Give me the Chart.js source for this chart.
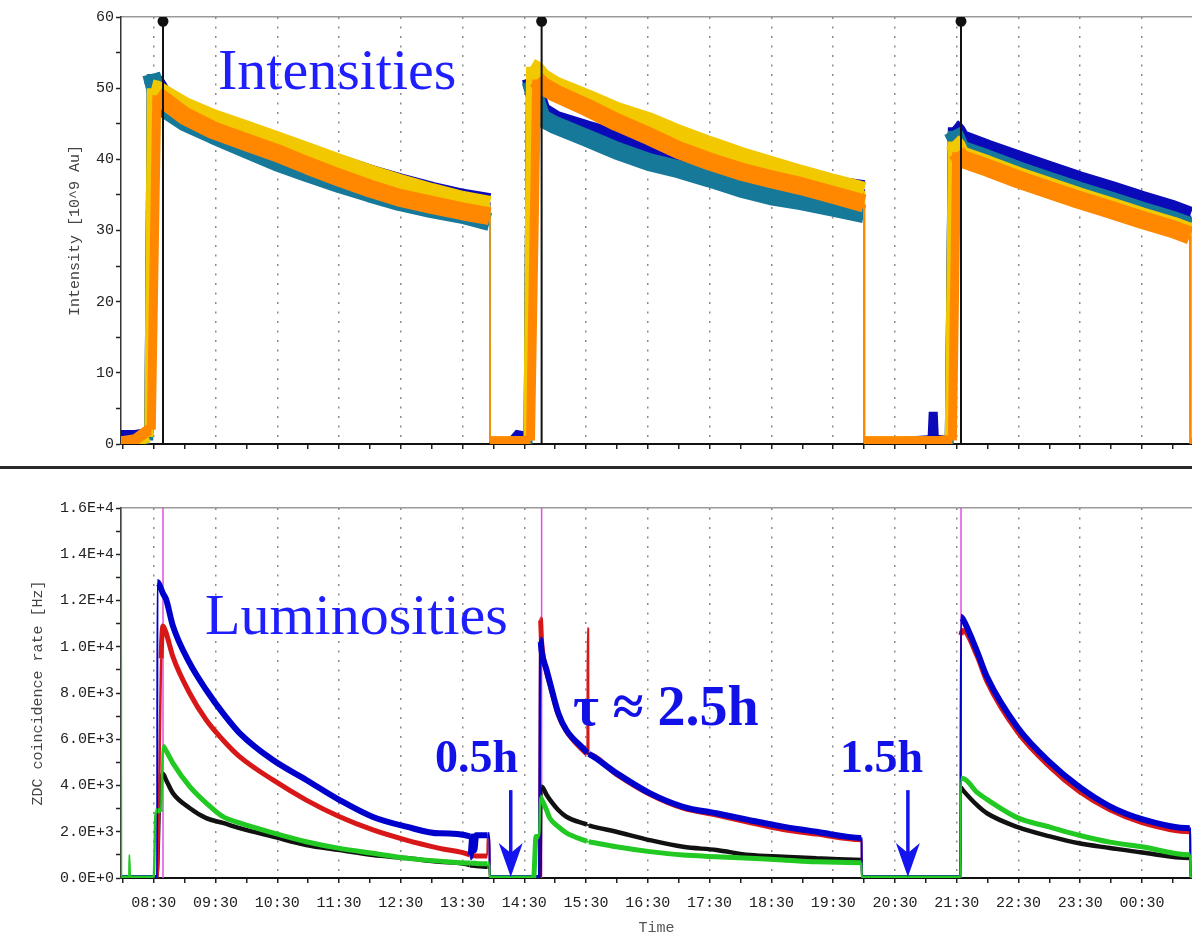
<!DOCTYPE html>
<html>
<head>
<meta charset="utf-8">
<script src="https://cdn.jsdelivr.net/npm/chart.js@4.4.1/dist/chart.umd.min.js"></script>
<style>
  html, body { margin: 0; padding: 0; background: #fff; }
  #wrap { position: relative; width: 1192px; height: 938px; overflow: hidden; background: #fff; }
  canvas { position: absolute; left: 0; }
  #intCanvas { top: 0; }
  #lumCanvas { top: 470px; }
  .sep { position: absolute; left: 0; top: 466px; width: 1192px; height: 3px; background: #2a2a2a; }
  .note { position: absolute; font-family: 'Liberation Serif', 'Times New Roman', serif; color: #1e1eff; line-height: 1; white-space: nowrap; }
  .bold { font-weight: bold; color: #1212e8; }
</style>
</head>
<body>
<div id="wrap">
  <canvas id="intCanvas" width="1192" height="466"></canvas>
  <div class="sep"></div>
  <canvas id="lumCanvas" width="1192" height="468"></canvas>
  <div class="note" style="left:218px;top:41px;font-size:58px;">Intensities</div>
  <div class="note" style="left:205px;top:586px;font-size:58px;">Luminosities</div>
  <div class="note bold" style="left:573px;top:678px;font-size:56px;">τ ≈ 2.5h</div>
  <div class="note bold" style="left:435px;top:734px;font-size:46px;">0.5h</div>
  <div class="note bold" style="left:840px;top:734px;font-size:46px;">1.5h</div>
</div>
<script>
// time axis (hours since midnight of the first day, > 24 after midnight)
const timeMin = 7.97;
const timeMax = 25.31;
const labelHours = [8.5, 9.5, 10.5, 11.5, 12.5, 13.5, 14.5, 15.5, 16.5, 17.5, 18.5, 19.5, 20.5, 21.5, 22.5, 23.5, 24.5];
const timeLabels = ['08:30', '09:30', '10:30', '11:30', '12:30', '13:30', '14:30', '15:30', '16:30', '17:30', '18:30', '19:30', '20:30', '21:30', '22:30', '23:30', '00:30'];

// start of each fill (black markers on top, magenta lines below)
const fillStarts = [8.65, 14.78, 21.57];

// beam intensities [10^9 Au]
const intTime = [7.97, 8.20, 8.42, 8.46, 8.55, 8.65, 9.00, 9.46, 10.00, 10.49, 11.00, 11.51, 12.00, 12.48, 13.00, 13.50, 13.94, 13.945,
  14.30, 14.43, 14.48, 14.56, 14.60, 14.70, 14.78, 15.00, 15.51, 16.00, 16.53, 17.00, 17.50, 18.00, 18.50, 19.00, 19.50, 20.00, 20.005,
  20.60, 21.10, 21.12, 21.14, 21.38, 21.43, 21.50, 21.57, 22.00, 22.49, 23.00, 23.48, 24.00, 24.50, 25.00, 25.28, 25.285, 25.31];
const intBlue = [1.2, 1.2, 1.5, 51.5, 50.5, 49.1, 47.3, 45.6, 44.0, 42.5, 40.9, 39.4, 38.0, 36.8, 35.6, 34.6, 34.0, 0.2,
  0.2, 1.5, 0.2, 0.5, 51.5, 49.0, 46.8, 45.6, 44.2, 43.0, 41.6, 40.6, 39.6, 38.6, 37.6, 36.9, 36.4, 35.8, 0.2,
  0.2, 0.5, 4.5, 0.5, 0.5, 44.5, 44.0, 42.9, 41.5, 40.0, 38.5, 37.1, 35.7, 34.3, 33.0, 32.1, 0, 0];
const intOrange = [0.3, 0.6, 2.0, 2.0, 49.0, 48.4, 46.1, 44.1, 42.4, 40.9, 39.1, 37.4, 35.9, 34.6, 33.6, 32.7, 32.0, 0.3,
  0.3, 0.3, 0.3, 0.5, 0.5, 51.2, 50.4, 49.3, 47.3, 45.2, 43.2, 41.3, 39.7, 38.3, 37.2, 36.2, 35.0, 33.8, 0.3,
  0.3, 0.3, 0.3, 0.3, 0.5, 0.5, 41.0, 40.1, 38.8, 37.2, 35.7, 34.3, 32.9, 31.5, 30.2, 29.3, 0, 0];
const intYellow = [0.3, 0.3, 1.0, 50.0, 49.8, 49.3, 47.5, 45.8, 44.2, 42.7, 41.1, 39.5, 38.0, 36.7, 35.4, 34.3, 33.6, 0.3,
  0.3, 0.3, 0.3, 0.5, 53.0, 52.5, 51.6, 50.4, 48.6, 46.8, 45.3, 43.6, 42.0, 40.5, 39.2, 37.9, 36.7, 35.6, 0.3,
  0.3, 0.3, 0.3, 0.3, 0.5, 42.5, 41.9, 40.6, 39.3, 37.7, 36.2, 34.8, 33.4, 32.0, 30.7, 29.8, 0, 0];
const intTeal = [0, 0, 0.5, 52.0, 49.0, 47.2, 45.2, 43.4, 41.4, 39.6, 38.0, 36.5, 35.2, 34.0, 33.0, 32.2, 31.2, 0,
  0, 0, 0, 0, 51.0, 48.0, 45.8, 44.8, 43.0, 41.2, 39.6, 38.6, 37.3, 35.9, 34.8, 34.1, 33.2, 32.3, 0,
  0, 0, 0, 0, 0, 44.0, 42.8, 41.4, 40.1, 38.5, 37.0, 35.6, 34.2, 32.8, 31.5, 30.6, 0, 0];

// ZDC coincidence rate [Hz]
const lumTime = [7.97, 7.975, 8.10, 8.105, 8.12, 8.50, 8.53, 8.555, 8.56, 8.62, 8.65, 8.70, 8.81, 9.08, 9.35, 9.62, 9.89,
  10.43, 10.97, 11.51, 12.05, 12.59, 13.13, 13.62, 13.625, 13.66, 13.69, 13.72, 13.90, 13.905, 13.935, 13.94,
  14.65, 14.69, 14.74, 14.76, 14.78, 14.86, 14.91, 15.05, 15.18, 15.515, 15.52, 15.525, 15.535, 15.54, 15.545, 15.99, 16.53,
  17.07, 17.61, 18.15, 18.69, 19.23, 19.955, 19.96, 19.965, 21.50, 21.56, 21.57, 21.60, 21.83, 21.99, 22.49, 23.01,
  23.48, 23.98, 24.50, 25.275, 25.28, 25.285, 25.31];
const lumBlue = [0, 0, 0, 0, 0, 0, 0, 0, 12800, 12500, 12300, 12050, 10900, 9300, 8130, 7130, 6270,
  5100, 4240, 3370, 2640, 2220, 1930, 1800, 900, 1800, 1200, 1850, 1850, 1850, 1850, 0,
  0, 0, 0, 10300, 9800, 9000, 8500, 7130, 6400, 5420, 5400, 5390, 5380, 5370, 5365, 4540, 3670,
  3080, 2800, 2500, 2220, 2000, 1735, 1730, 0, 0, 0, 11300, 11200, 9800, 8700, 6500, 5000,
  3950, 3100, 2550, 2155, 2150, 0, 0];
const lumRed = [0, 0, 0, 0, 0, 0, 0, 0, 0, 9500, 10900, 10600, 9570, 8000, 6830, 5970, 5250,
  4240, 3370, 2650, 2080, 1640, 1280, 990, 980, 970, 960, 955, 950, 1800, 1800, 0,
  0, 0, 0, 11200, 10200, 8900, 8400, 7050, 6350, 5360, 5350, 10800, 10800, 5330, 5325, 4480, 3620,
  3020, 2720, 2400, 2100, 1900, 1655, 1650, 0, 0, 0, 10500, 10700, 9600, 8500, 6300, 4800,
  3750, 2950, 2400, 2005, 2000, 0, 0];
const lumBlack = [0, 0, 0, 0, 0, 0, 0, 0, 0, 4500, 4500, 4240, 3670, 3030, 2590, 2380, 2160,
  1790, 1430, 1210, 990, 860, 700, 560, 550, 540, 530, 520, 490, 490, 480, 0,
  0, 0, 0, 0, 3960, 3600, 3400, 2940, 2650, 2305, 2300, 2290, 2290, 2280, 2275, 2000, 1640,
  1350, 1210, 990, 920, 850, 782, 780, 0, 0, 0, 3900, 3800, 3150, 2800, 2200, 1800,
  1500, 1300, 1100, 862, 860, 0, 0];
const lumGreen = [20000, 0, 0, 1000, 0, 0, 2900, 2900, 2900, 3000, 5700, 5500, 4970, 3960, 3240, 2650, 2380,
  1950, 1570, 1280, 1070, 860, 730, 650, 650, 640, 640, 630, 620, 620, 620, 0,
  0, 1800, 1800, 3500, 3400, 2940, 2600, 2220, 1950, 1585, 1580, 1570, 1570, 1570, 1568, 1350, 1140,
  990, 920, 850, 780, 700, 662, 660, 0, 0, 0, 4300, 4300, 3700, 3400, 2600, 2200,
  1850, 1550, 1350, 1002, 1000, 0, 0];

const rateTicks = [0, 2000, 4000, 6000, 8000, 10000, 12000, 14000, 16000];
const rateLabels = ['0.0E+0', '2.0E+3', '4.0E+3', '6.0E+3', '8.0E+3', '1.0E+4', '1.2E+4', '1.4E+4', '1.6E+4'];

// gap arrows between fills
const arrowHours = [14.28, 20.71];
const arrowTopRate = 3800;

Chart.defaults.font.family = "'Liberation Mono', 'DejaVu Sans Mono', monospace";
Chart.defaults.color = '#222';

const pts = (times, vals) => times.map((t, i) => ({ x: t, y: vals[i] }));

// thick bands of samples, thin vertical drops
function segWidth(wide, steep, thin, flat) {
  return c => {
    const dx = c.p1.x - c.p0.x;
    if (dx < 1) return thin;
    const b = c.chart.chartArea.bottom;
    if (flat && b - c.p0.y < 16 && b - c.p1.y < 16) return flat;
    if (Math.abs(c.p1.y - c.p0.y) / dx > 20) return steep;
    return wide;
  };
}

function band(label, times, vals, color, wide, steep, thin, flat, smooth) {
  return {
    label, data: pts(times, vals), borderColor: color, borderWidth: wide,
    borderJoinStyle: 'bevel', pointRadius: 0,
    cubicInterpolationMode: smooth ? 'monotone' : 'default',
    segment: { borderWidth: segWidth(wide, steep, thin, flat) }
  };
}

function markerLines(top, color, width, dot) {
  return {
    data: fillStarts.flatMap(t => [{ x: t, y: 0 }, { x: t, y: top }, { x: t, y: null }]),
    borderColor: color, backgroundColor: color, borderWidth: width,
    pointRadius: c => (dot && c.raw && c.raw.y === top ? dot : 0)
  };
}

const halfHourTicks = labelHours.flatMap(h => [h - 0.5, h]).concat([25]);

function timeAxis(showLabels, height) {
  return {
    type: 'linear', min: timeMin, max: timeMax,
    afterBuildTicks: s => { s.ticks = halfHourTicks.map(v => ({ value: v })); },
    afterFit: s => { s.height = height; },
    ticks: {
      display: showLabels, autoSkip: false, maxRotation: 0, padding: 11,
      font: { size: 15 }, color: '#222',
      callback: v => { const i = labelHours.indexOf(v); return i >= 0 ? timeLabels[i] : ''; }
    },
    grid: {
      color: c => (c.tick && labelHours.includes(c.tick.value) ? '#8a8a8a' : 'rgba(0,0,0,0)'),
      lineWidth: 1.5, tickColor: '#222', tickLength: 5, tickWidth: 1.5
    },
    border: { color: '#111', width: 2, dash: [2, 7.5] }
  };
}

function topFrame() {
  return {
    type: 'linear', position: 'top', min: timeMin, max: timeMax,
    afterFit: s => { s.height = 0; },
    ticks: { display: false }, grid: { display: false, drawTicks: false },
    border: { color: '#9a9a9a', width: 1.5 }
  };
}

const baseOptions = {
  responsive: false, animation: false, events: [],
  plugins: { legend: { display: false }, tooltip: { enabled: false } }
};

new Chart(document.getElementById('intCanvas'), {
  type: 'line',
  data: {
    datasets: [
      markerLines(59.4, '#111', 2, 4.5),
      band('Orange', intTime, intOrange, '#ff8800', 18, 9, 1.5, 11),
      band('Yellow', intTime, intYellow, '#f2c800', 18, 9, 1.5, 11),
      band('Teal', intTime, intTeal, '#16799a', 18, 9, 1.5, 11),
      band('Blue', intTime, intBlue, '#0a0ab8', 18, 9, 1.5, 11)
    ]
  },
  options: {
    ...baseOptions,
    layout: { padding: { top: 17, right: 0, bottom: 0, left: 0 } },
    scales: {
      x: timeAxis(false, 22),
      xTop: topFrame(),
      y: {
        min: 0, max: 60,
        afterFit: s => { s.width = 121; },
        ticks: {
          stepSize: 5, autoSkip: false, padding: 2, font: { size: 15 }, color: '#222',
          callback: v => (v % 10 === 0 ? String(v) : '')
        },
        grid: { drawOnChartArea: false, tickColor: '#222', tickLength: 5, tickWidth: 1.5 },
        border: { color: '#333', width: 1.5 },
        title: {
          display: true, text: 'Intensity [10^9 Au]', color: '#444',
          font: { size: 15 }, padding: { top: 66, bottom: 0 }
        }
      }
    }
  }
});

const arrowPlugin = {
  id: 'gapArrows',
  afterDatasetsDraw(chart) {
    const { ctx, scales: { x, y } } = chart;
    ctx.save();
    ctx.fillStyle = '#1414ee';
    ctx.strokeStyle = '#1414ee';
    arrowHours.forEach(h => {
      const px = x.getPixelForValue(h);
      const top = y.getPixelForValue(arrowTopRate);
      const tip = y.getPixelForValue(0) - 1;
      ctx.lineWidth = 3.5;
      ctx.beginPath();
      ctx.moveTo(px, top);
      ctx.lineTo(px, tip - 20);
      ctx.stroke();
      ctx.beginPath();
      ctx.moveTo(px, tip);
      ctx.lineTo(px - 12, tip - 34);
      ctx.lineTo(px, tip - 24);
      ctx.lineTo(px + 12, tip - 34);
      ctx.closePath();
      ctx.fill();
    });
    ctx.restore();
  }
};

new Chart(document.getElementById('lumCanvas'), {
  type: 'line',
  data: {
    datasets: [
      band('Green', lumTime, lumGreen, '#22c922', 5, 2.5, 2, 0, true),
      band('Blue', lumTime, lumBlue, '#0000cc', 6, 2.5, 2, 0, true),
      band('Red', lumTime, lumRed, '#d81818', 5, 2.5, 2, 0, true),
      band('Black', lumTime, lumBlack, '#111111', 4.5, 2.5, 2, 0, true),
      markerLines(16000, '#e050e0', 1.5, 0)
    ]
  },
  options: {
    ...baseOptions,
    layout: { padding: { top: 38, right: 0, bottom: 0, left: 0 } },
    scales: {
      x: {
        ...timeAxis(true, 60),
        title: { display: true, text: 'Time', color: '#555', font: { size: 15 }, padding: { top: 0, bottom: 1 } }
      },
      xTop: topFrame(),
      y: {
        min: 0, max: 16000,
        afterFit: s => { s.width = 121; },
        ticks: {
          stepSize: 1000, autoSkip: false, padding: 2, font: { size: 15 }, color: '#222',
          callback: v => { const i = rateTicks.indexOf(v); return i >= 0 ? rateLabels[i] : ''; }
        },
        grid: { drawOnChartArea: false, tickColor: '#222', tickLength: 5, tickWidth: 1.5 },
        border: { color: '#444', width: 1.5 },
        title: {
          display: true, text: 'ZDC coincidence rate [Hz]', color: '#444',
          font: { size: 15 }, padding: { top: 29, bottom: 0 }
        }
      }
    }
  },
  plugins: [arrowPlugin]
});
</script>
</body>
</html>
